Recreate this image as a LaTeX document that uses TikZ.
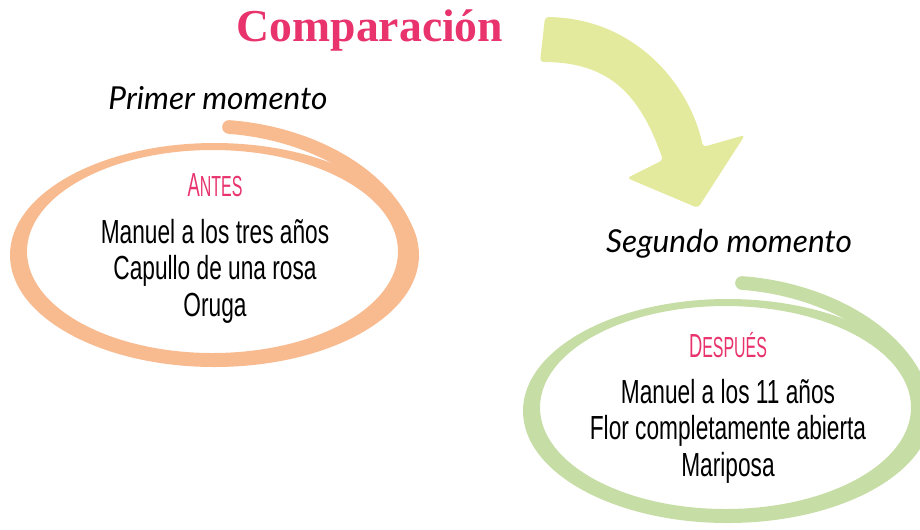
\documentclass[tikz,border=0pt]{standalone}
\usepackage{fontspec}
\setmainfont{Liberation Sans}[FakeStretch=0.68]
\newfontfamily\titlefont{Liberation Serif}
\newfontfamily\handfont{Lato}
\newfontfamily\capsfont{Liberation Sans}[FakeStretch=0.55]
\definecolor{rosa}{HTML}{E8336D}
\definecolor{naranja}{HTML}{F8BB90}
\definecolor{verde}{HTML}{C6DDA5}
\definecolor{limon}{HTML}{E4EA9D}
\tikzset{
  titletext/.style = {text=rosa, font=\titlefont\bfseries\fontsize{26}{30}\selectfont},
  moment/.style = {font=\handfont\itshape\fontsize{18}{21}\selectfont},
  tag/.style = {text=rosa, font=\capsfont\fontsize{16.5}{20}\selectfont},
  body/.style = {align=center, font=\fontsize{19}{20.8}\selectfont}
}
\newcommand{\drawhoop}[1]{%
  \fill[#1, even odd rule] (214.5,255) ellipse [x radius=204.5, y radius=112]
    (212.5,251.5) ellipse [x radius=185.5, y radius=101.5];
  \draw[#1, line width=7.8pt, line cap=round] (229,127) .. controls (310,133) and (390,175) .. (410,240);
}
\begin{document}
\begin{tikzpicture}[x=0.02cm, y=-0.02cm]
	\useasboundingbox (0,0) rectangle (920,529);
	\fill[limon, rounded corners=2pt] (545,17) .. controls (635,18) and (690,85) .. (703,147)
		-- (745,135) -- (698,208) -- (627,178) -- (663,160)
		.. controls (640,95) and (610,62) .. (540,62) -- cycle;
	\drawhoop{naranja}
	\begin{scope}[shift={(513,156)}]
		\drawhoop{verde}
	\end{scope}
	\node [titletext] (title) at (370,30) {Comparación};
	\node [moment] (first) at (218,98) {Primer momento};
	\node [moment] (second) at (729,244) {Segundo momento};
	\node [tag] (antes) at (215,185) {{\fontsize{19}{20}\selectfont A}NTES};
	\node [body] (antesbody) at (215,271) {Manuel a los tres años\\Capullo de una rosa\\Oruga};
	\node [tag] (despues) at (728,345) {{\fontsize{19}{20}\selectfont D}ESPUÉS};
	\node [body] (despuesbody) at (728,431) {Manuel a los 11 años\\Flor completamente abierta\\Mariposa};
\end{tikzpicture}
\end{document}
